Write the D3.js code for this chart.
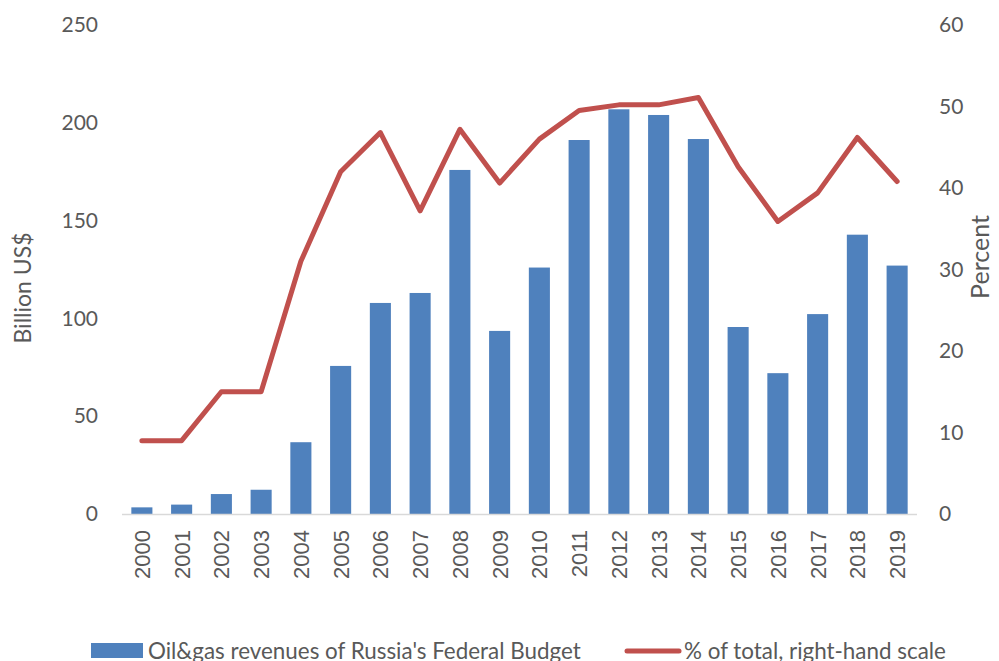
<!DOCTYPE html>
<html>
<head>
<meta charset="utf-8">
<script src="https://cdn.jsdelivr.net/npm/d3@7/dist/d3.min.js"></script>
<style>
  body { margin: 0; background: #fff; }
  text { fill: #595959; }
</style>
</head>
<body>
<script>
// chart data
var years = ["2000","2001","2002","2003","2004","2005","2006","2007","2008","2009",
             "2010","2011","2012","2013","2014","2015","2016","2017","2018","2019"];
var revenues = [3.4, 4.8, 10.2, 12.4, 36.7, 75.7, 107.9, 113, 175.9, 93.6,
                126, 191.2, 206.9, 204, 191.7, 95.6, 72, 102.2, 142.8, 127];
var shares = [9, 9, 15, 15, 31, 42, 46.8, 37.2, 47.2, 40.6,
              46, 49.5, 50.2, 50.2, 51.1, 42.6, 35.9, 39.4, 46.2, 40.8];
var leftTicks = [0, 50, 100, 150, 200, 250];
var rightTicks = [0, 10, 20, 30, 40, 50, 60];

var width = 999, height = 661;
var plotLeft = 122, plotRight = 917, plotTop = 25, plotBottom = 514;

var svg = d3.select("body").append("svg")
    .attr("width", width)
    .attr("height", height);

var x = d3.scaleBand().domain(years).range([plotLeft, plotRight]).paddingInner(0.47).paddingOuter(0.235);
var yL = d3.scaleLinear().domain([0, 250]).range([plotBottom, plotTop]);
var yR = d3.scaleLinear().domain([0, 60]).range([plotBottom, plotTop]);

// bars
svg.append("g").selectAll("rect")
    .data(revenues)
    .enter().append("rect")
    .attr("x", function(d, i) { return x(years[i]); })
    .attr("y", function(d) { return yL(d); })
    .attr("width", x.bandwidth())
    .attr("height", function(d) { return plotBottom - yL(d); })
    .attr("fill", "#4f81bd");

// baseline
svg.append("line")
    .attr("x1", plotLeft).attr("x2", plotRight)
    .attr("y1", plotBottom + 0.5).attr("y2", plotBottom + 0.5)
    .attr("stroke", "#d9d9d9").attr("stroke-width", 1.5);

// percent line
var line = d3.line()
    .x(function(d, i) { return x(years[i]) + x.bandwidth() / 2; })
    .y(function(d) { return yR(d); });
svg.append("path")
    .datum(shares)
    .attr("d", line)
    .attr("fill", "none")
    .attr("stroke", "#c0504d")
    .attr("stroke-width", 5)
    .attr("stroke-linejoin", "round")
    .attr("stroke-linecap", "round");

// left axis
var axL = svg.append("g")
    .attr("transform", "translate(" + (plotLeft - 24) + ",0)")
    .call(d3.axisLeft(yL).tickValues(leftTicks).tickSize(0).tickPadding(0));
axL.select(".domain").remove();
axL.selectAll("text")
    .attr("font-family", "Lato, sans-serif")
    .attr("font-size", 21)
    .attr("fill", "#595959");

// right axis
var axR = svg.append("g")
    .attr("transform", "translate(" + (plotRight + 22) + ",0)")
    .call(d3.axisRight(yR).tickValues(rightTicks).tickSize(0).tickPadding(0));
axR.select(".domain").remove();
axR.selectAll("text")
    .attr("font-family", "Lato, sans-serif")
    .attr("font-size", 21)
    .attr("fill", "#595959");

// year labels
svg.append("g").selectAll("text")
    .data(years)
    .enter().append("text")
    .attr("transform", function(d) {
        return "translate(" + (x(d) + x.bandwidth() / 2 + 8) + "," + (plotBottom + 16) + ") rotate(-90)";
    })
    .attr("text-anchor", "end")
    .attr("font-family", "Liberation Sans, Arial, sans-serif")
    .attr("font-size", 22)
    .text(function(d) { return d; });

// axis titles
svg.append("text")
    .attr("transform", "translate(31,288) rotate(-90)")
    .attr("text-anchor", "middle")
    .attr("font-family", "Lato, sans-serif")
    .attr("font-size", 23)
    .text("Billion US$");
svg.append("text")
    .attr("transform", "translate(989,257) rotate(-90)")
    .attr("text-anchor", "middle")
    .attr("font-family", "Lato, sans-serif")
    .attr("font-size", 25)
    .text("Percent");

// legend (cut off at the bottom edge, as in the original)
var lg = svg.append("g").attr("font-family", "Lato, sans-serif").attr("font-size", 22.4);
lg.append("rect")
    .attr("x", 91).attr("y", 643).attr("width", 52).attr("height", 15)
    .attr("fill", "#4f81bd");
lg.append("text").attr("x", 148).attr("y", 659)
    .text("Oil&gas revenues of Russia's Federal Budget");
lg.append("line")
    .attr("x1", 627).attr("x2", 679).attr("y1", 651).attr("y2", 651)
    .attr("stroke", "#c0504d").attr("stroke-width", 5).attr("stroke-linecap", "round");
lg.append("text").attr("x", 684).attr("y", 659)
    .text("% of total, right-hand scale");
</script>
</body>
</html>
